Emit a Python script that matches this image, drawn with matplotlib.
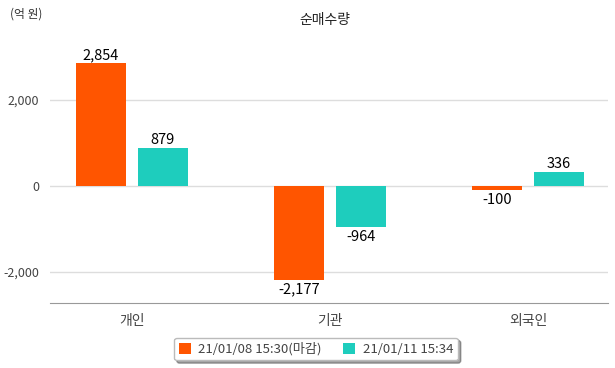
import numpy as np
import matplotlib.pyplot as plt

plt.rcParams['font.family'] = ['Noto Sans CJK KR', 'DejaVu Sans']

categories = ['개인', '기관', '외국인']
series_names = ['21/01/08 15:30(마감)', '21/01/11 15:34']
values_0108 = [2854, -2177, -100]
values_0111 = [879, -964, 336]
colors = ['#ff5500', '#1ecdbd']

fig = plt.figure(figsize=(6.15, 3.68), dpi=100)
ax = fig.add_axes([50/615, 65/368, 558/615, 263/368])

x = np.arange(len(categories))
w = 0.2525
off = 0.156
b1 = ax.bar(x - off, values_0108, w, color=colors[0], label=series_names[0], zorder=3)
b2 = ax.bar(x + off, values_0111, w, color=colors[1], label=series_names[1], zorder=3)

# value labels above / below each bar
for bars, vals in ((b1, values_0108), (b2, values_0111)):
    for b, v in zip(bars, vals):
        if v >= 0:
            ax.text(b.get_x() + b.get_width()/2, v + 20, f'{v:,}', ha='center', va='bottom',
                    fontsize=10.5, color='black')
        else:
            ax.text(b.get_x() + b.get_width()/2, v - 60, f'{v:,}', ha='center', va='top',
                    fontsize=10.5, color='black')

ax.set_xlim(-0.414, 2.404)
ax.set_ylim(-2721, 3395)
ax.set_yticks([-2000, 0, 2000])
ax.set_yticklabels(['-2,000', '0', '2,000'])
ax.set_xticks(x)
ax.set_xticklabels(categories)
ax.grid(axis='y', color='#dddddd', linewidth=1, zorder=0)
for s in ['top', 'right', 'left']:
    ax.spines[s].set_visible(False)
ax.spines['bottom'].set_color('#999999')
ax.tick_params(axis='y', length=0, labelsize=9, colors='#444444', pad=8)
ax.tick_params(axis='x', length=0, labelsize=10, colors='#444444', pad=8)

fig.text(325/615, 1 - 20/368, '순매수량', ha='center', va='center', fontsize=10, color='#222222')
fig.text(10/615, 1 - 14/368, '(억 원)', ha='left', va='center', fontsize=8.5, color='#333333')

leg = fig.legend(loc='center', bbox_to_anchor=(316/615, 1 - 349/368), ncol=2, fontsize=9.5,
                 frameon=True, fancybox=True, shadow=True, handlelength=0.9, handleheight=0.9,
                 handletextpad=0.6, columnspacing=1.6, borderpad=0.35)
for t in leg.get_texts():
    t.set_color('#444444')
leg.get_frame().set_edgecolor('#bbbbbb')

fig.savefig('out.png', dpi=100)
